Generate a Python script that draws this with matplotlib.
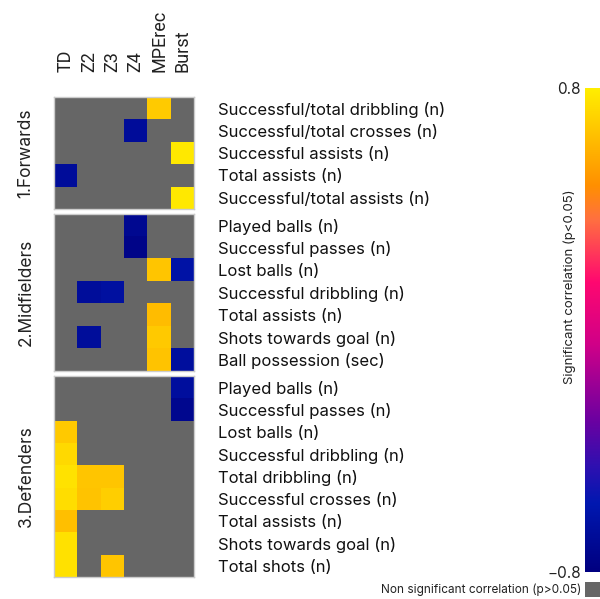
import numpy as np
import matplotlib
matplotlib.use("Agg")
import matplotlib.pyplot as plt
from matplotlib.colors import LinearSegmentedColormap

plt.rcParams["font.family"] = ["Inter", "DejaVu Sans"]

nan = np.nan

columns = ["TD", "Z2", "Z3", "Z4", "MPErec", "Burst"]

forwards_labels = [
    "Successful/total dribbling (n)",
    "Successful/total crosses (n)",
    "Successful assists (n)",
    "Total assists (n)",
    "Successful/total assists (n)",
]
forwards_vals = [
    [nan, nan, nan, nan, 0.68, nan],
    [nan, nan, nan, -0.68, nan, nan],
    [nan, nan, nan, nan, nan, 0.78],
    [-0.68, nan, nan, nan, nan, nan],
    [nan, nan, nan, nan, nan, 0.78],
]

midfielders_labels = [
    "Played balls (n)",
    "Successful passes (n)",
    "Lost balls (n)",
    "Successful dribbling (n)",
    "Total assists (n)",
    "Shots towards goal (n)",
    "Ball possession (sec)",
]
midfielders_vals = [
    [nan, nan, nan, -0.72, nan, nan],
    [nan, nan, nan, -0.76, nan, nan],
    [nan, nan, nan, nan, 0.66, -0.62],
    [nan, -0.67, -0.65, nan, nan, nan],
    [nan, nan, nan, nan, 0.63, nan],
    [nan, -0.67, nan, nan, 0.67, nan],
    [nan, nan, nan, nan, 0.65, -0.66],
]

defenders_labels = [
    "Played balls (n)",
    "Successful passes (n)",
    "Lost balls (n)",
    "Successful dribbling (n)",
    "Total dribbling (n)",
    "Successful crosses (n)",
    "Total assists (n)",
    "Shots towards goal (n)",
    "Total shots (n)",
]
defenders_vals = [
    [nan, nan, nan, nan, nan, -0.66],
    [nan, nan, nan, nan, nan, -0.73],
    [0.67, nan, nan, nan, nan, nan],
    [0.73, nan, nan, nan, nan, nan],
    [0.76, 0.66, 0.66, nan, nan, nan],
    [0.74, 0.65, 0.69, nan, nan, nan],
    [0.64, nan, nan, nan, nan, nan],
    [0.75, nan, nan, nan, nan, nan],
    [0.75, nan, 0.66, nan, nan, nan],
]

groups = [
    ("1.Forwards", forwards_labels, forwards_vals),
    ("2.Midfielders", midfielders_labels, midfielders_vals),
    ("3.Defenders", defenders_labels, defenders_vals),
]

# navy -> blue -> purple -> magenta -> pink -> orange -> yellow
cmap = LinearSegmentedColormap.from_list("sig", [
    (0.00, "#000080"),
    (0.14, "#0018b0"),
    (0.22, "#3010b0"),
    (0.32, "#7000a0"),
    (0.47, "#d00088"),
    (0.60, "#ff0870"),
    (0.73, "#ff7040"),
    (0.80, "#ff9000"),
    (1.00, "#ffee00"),
])
cmap.set_bad("#666666")

fig = plt.figure(figsize=(6.0, 5.99), dpi=100)
H = 599.0

# (top, bottom) of each block in pixels
blocks = [(97, 209), (214, 371), (376, 577)]
left, width = 54 / 600, 140 / 600

for i, ((name, labels, vals), (top, bot)) in enumerate(zip(groups, blocks)):
    ax = fig.add_axes([left, 1 - bot / H, width, (bot - top) / H])
    data = np.ma.masked_invalid(np.array(vals, dtype=float))
    ax.imshow(data, cmap=cmap, vmin=-0.8, vmax=0.8, aspect="auto",
              interpolation="nearest")
    ax.yaxis.tick_right()
    ax.set_yticks(range(len(labels)))
    ax.set_yticklabels(labels, fontsize=12, color="#111111")
    ax.tick_params(axis="y", length=0, pad=17)
    if i == 0:
        ax.xaxis.tick_top()
        ax.set_xticks(range(len(columns)))
        ax.set_xticklabels(columns, rotation=90, fontsize=13,
                           family=["Roboto", "DejaVu Sans"],
                           color="#222222")
        ax.tick_params(axis="x", length=0, pad=18)
    else:
        ax.set_xticks([])
    ax.set_ylabel(name, fontsize=12.5, color="#222222", labelpad=14)
    for s in ax.spines.values():
        s.set_color("#cccccc")
        s.set_linewidth(1)

# colorbar
cax = fig.add_axes([585 / 600, 1 - 572 / H, 15 / 600, 484 / H])
grad = np.linspace(-0.8, 0.8, 256).reshape(-1, 1)
cax.imshow(grad, cmap=cmap, vmin=-0.8, vmax=0.8, aspect="auto",
           origin="lower", extent=[0, 1, -0.8, 0.8])
cax.set_xticks([])
cax.set_yticks([-0.8, 0.8])
cax.set_yticklabels(["\u22120.8", "0.8"], fontsize=11, color="#222222")
cax.tick_params(axis="y", length=0, pad=3)
for s in cax.spines.values():
    s.set_visible(False)
fig.text(570 / 600, 1 - 287 / H, "Significant correlation (p<0.05)",
         rotation=90, ha="center", va="center", fontsize=9.5, color="#222222")

# non significant legend
nax = fig.add_axes([585 / 600, 1 - 597 / H, 15 / 600, 15 / H])
nax.set_facecolor("#666666")
nax.set_xticks([])
nax.set_yticks([])
for s in nax.spines.values():
    s.set_visible(False)
fig.text(581 / 600, 1 - 590 / H, "Non significant correlation (p>0.05)",
         ha="right", va="center", fontsize=8.5, color="#222222")

fig.savefig("out.png", dpi=100)
